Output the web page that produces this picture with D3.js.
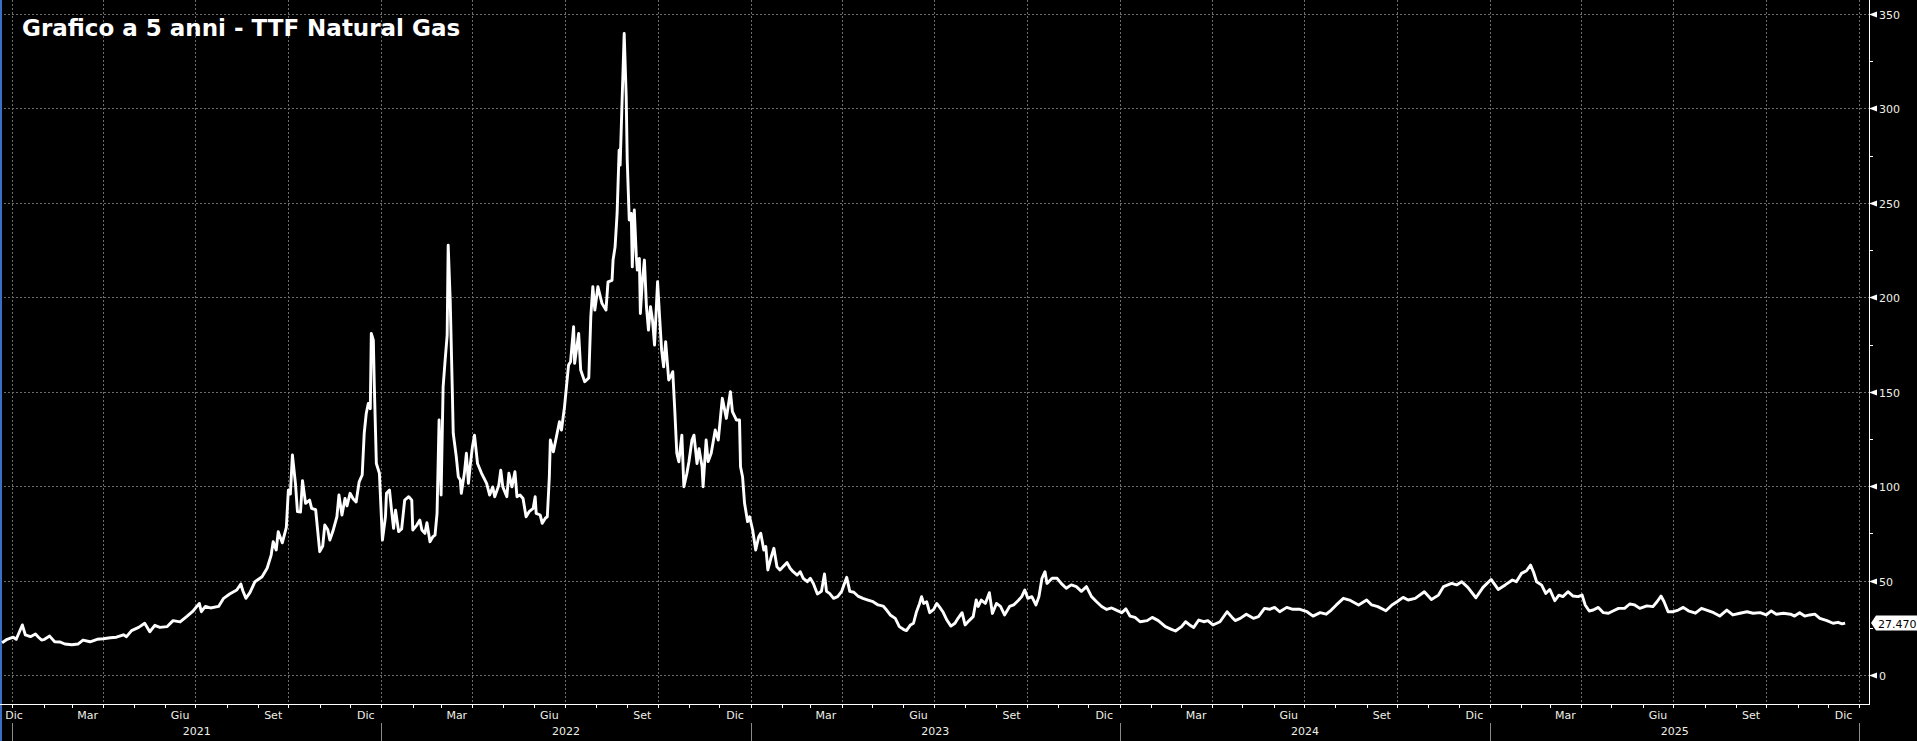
<!DOCTYPE html>
<html>
<head>
<meta charset="utf-8">
<script src="https://cdn.jsdelivr.net/npm/d3@7"></script>
<style>
  html, body { margin: 0; padding: 0; background: #000; }
  svg { display: block; }
</style>
</head>
<body>
<svg id="chart"></svg>
<script>
// TTF front-month, EUR/MWh: [month-day, price] per year
var prices2020 = [["12-22",17.1],["12-27",18.9]];
var prices2021 = [["01-02",20],["01-05",18.9],["01-11",26.5],["01-14",21.2],["01-19",20.3],["01-24",21.7],["01-27",20],["01-30",18.5],["02-02",18.9],["02-07",20.6],["02-12",17.6],["02-17",17.5],["02-22",16.4],["03-01",16],["03-07",16.4],["03-12",18.5],["03-19",17.6],["03-26",18.9],["04-01",19.2],["04-08",19.7],["04-14",20],["04-21",21.3],["04-24",20.3],["04-29",23.5],["05-06",25.2],["05-12",27.4],["05-17",22.9],["05-22",26.3],["05-27",25.2],["06-03",25.6],["06-09",28.8],["06-16",28.1],["06-23",31.2],["06-29",34],["07-05",37.9],["07-07",33.5],["07-11",36.3],["07-16",35.5],["07-24",36.3],["07-29",40.6],["08-04",42.9],["08-11",45],["08-15",48.2],["08-17",44.6],["08-20",40.6],["08-24",43.6],["08-29",49.4],["09-05",52],["09-10",56.5],["09-14",63.5],["09-16",70.6],["09-19",66.2],["09-21",75.9],["09-25",70],["09-29",78.2],["10-01",97.9],["10-03",95.8],["10-05",116.5],["10-08",101.5],["10-10",86.5],["10-13",86.3],["10-15",102.9],["10-18",90.9],["10-22",92.6],["10-24",88.2],["10-28",87.5],["11-01",65.3],["11-04",68.3],["11-06",79.4],["11-09",76.9],["11-11",71.5],["11-14",76.1],["11-18",83.8],["11-20",95.3],["11-23",84.7],["11-26",93.5],["11-28",89.5],["12-01",96.2],["12-04",93.3],["12-07",91.6],["12-10",102.3],["12-13",105.9],["12-15",128],["12-17",138.5],["12-19",143.8],["12-21",141],["12-22",180.9],["12-24",177.3],["12-25",152.6],["12-27",112],["12-30",106.8]];
var prices2022 = [["01-02",71.5],["01-05",83.8],["01-06",96.2],["01-09",97.9],["01-11",87.3],["01-13",77.7],["01-15",87.3],["01-18",75.9],["01-21",77.3],["01-24",92.6],["01-28",94.4],["01-31",92.6],["02-01",76.8],["02-05",79.4],["02-08",82],["02-10",76.8],["02-13",75],["02-15",80.6],["02-18",70.6],["02-21",73.3],["02-23",74.1],["02-25",85.6],["02-27",135],["03-01",95.3],["03-03",152.6],["03-05",166.8],["03-07",180],["03-08",227.6],["03-10",198.5],["03-12",152.6],["03-13",128],["03-16",115.6],["03-18",105],["03-20",103.2],["03-21",96.2],["03-24",106.8],["03-26",117.4],["03-28",101.5],["03-30",112],["04-01",120.9],["04-03",127],["04-06",112],["04-10",106.8],["04-15",101.5],["04-18",95.3],["04-21",99.6],["04-23",94.4],["04-27",100.4],["04-29",108.5],["05-01",99.6],["05-05",94.4],["05-07",106.8],["05-10",99.6],["05-13",107.6],["05-15",94.4],["05-18",95.3],["05-21",93.5],["05-24",83.8],["05-27",86.5],["05-31",88.2],["06-02",94.4],["06-03",85.6],["06-07",84.7],["06-09",80.3],["06-12",83],["06-14",83.8],["06-16",105],["06-17",124.4],["06-20",118.2],["06-23",126.2],["06-26",134.1],["06-28",129.7],["07-01",142],["07-05",164.1],["07-07",165.9],["07-10",184.4],["07-11",165],["07-15",180.9],["07-17",161.5],["07-21",155.3],["07-25",157.3],["07-27",189.7],["07-29",205.6],["07-31",193.2],["08-03",205.6],["08-07",196.8],["08-11",193.2],["08-13",208.2],["08-17",209],["08-18",219.7],["08-20",226.7],["08-22",244.4],["08-24",277.9],["08-25",270],["08-27",305.3],["08-29",339.7],["08-31",306.1],["09-01",272.6],["09-03",240.9],["09-05",244.4],["09-06",216.1],["09-08",246.2],["09-10",221.5],["09-11",214.4],["09-13",220.6],["09-14",191.4],["09-16",209.1],["09-18",219.7],["09-20",195],["09-22",182.6],["09-24",195],["09-26",187.9],["09-28",174.7],["10-01",208.2],["10-03",189.7],["10-05",172],["10-07",163.2],["10-09",176.5],["10-12",156.2],["10-14",158],["10-16",160.6],["10-18",140.3],["10-20",117.4],["10-22",112.9],["10-25",127],["10-27",99.7],["10-30",106.8],["11-01",112.9],["11-04",124.4],["11-06",127],["11-09",112],["11-11",119.8],["11-14",110.3],["11-15",99.7],["11-18",124.4],["11-20",113],["11-23",117.4],["11-27",129.7],["11-30",124.4],["12-04",146.5],["12-08",135.9],["12-12",150],["12-14",139.4],["12-18",135],["12-21",135],["12-22",110.3],["12-24",105],["12-26",90.9],["12-29",81.2],["12-31",83.8]];
var prices2023 = [["01-03",76.8],["01-06",66.2],["01-09",73.2],["01-11",75],["01-14",66.2],["01-16",68],["01-18",55.6],["01-21",61.8],["01-24",67.1],["01-27",57.3],["01-30",55.6],["02-02",57.3],["02-06",59.5],["02-09",56.5],["02-12",54.7],["02-16",52.9],["02-19",54.7],["02-22",51.2],["02-26",49.4],["03-01",51.2],["03-04",48.5],["03-08",42.9],["03-12",44.3],["03-15",53.5],["03-17",44.3],["03-20",43.2],["03-24",40.6],["03-28",41.5],["04-01",44.3],["04-06",51.7],["04-09",44.3],["04-13",43.8],["04-17",41.8],["04-22",40.6],["04-27",39.7],["05-02",38.8],["05-07",37.1],["05-12",36.5],["05-16",34],["05-19",31.8],["05-24",30],["05-28",25.6],["06-01",24.2],["06-04",23.5],["06-08",26.5],["06-11",27.4],["06-14",33.5],["06-17",37.9],["06-19",41.5],["06-21",37.9],["06-24",38.8],["06-27",33],["07-01",34.7],["07-04",37.9],["07-07",35.8],["07-10",33.5],["07-14",29.1],["07-18",25.9],["07-22",27.4],["07-25",30],["07-29",33],["08-01",26.5],["08-05",28.8],["08-09",30.9],["08-12",39.7],["08-14",36.3],["08-17",39.7],["08-21",37.9],["08-25",43.6],["08-28",32.6],["09-01",37.9],["09-05",36.3],["09-09",31.8],["09-14",36.3],["09-18",37.1],["09-23",39.7],["09-26",41.5],["09-29",45],["10-02",40.6],["10-06",41.5],["10-10",37.1],["10-13",41.5],["10-16",51.2],["10-19",54.7],["10-21",48.5],["10-26",51.2],["10-31",51.2],["11-04",48.5],["11-09",45.9],["11-14",47.7],["11-19",46.8],["11-24",44.3],["11-29",46.8],["12-04",41.5],["12-09",38.8],["12-14",36.3],["12-19",34.7],["12-24",35.5],["12-29",34.2]];
var prices2024 = [["01-03",33],["01-07",35],["01-11",31.2],["01-16",30.5],["01-21",28.2],["01-28",28.8],["02-02",30.5],["02-08",28.8],["02-15",25.6],["02-21",24.2],["02-25",23.3],["03-02",25.6],["03-06",28.2],["03-10",26.5],["03-14",25.2],["03-19",29.1],["03-24",28.2],["03-28",28.8],["04-02",26.5],["04-09",28.2],["04-16",33.5],["04-21",30.5],["04-24",28.8],["04-29",30],["05-05",32.2],["05-12",30],["05-17",30.9],["05-23",35.3],["05-28",34.8],["06-02",35.8],["06-07",33.5],["06-14",35.8],["06-20",34.8],["06-27",34.8],["07-04",33.5],["07-10",31.2],["07-17",33],["07-23",32.2],["07-28",34.4],["08-02",37.1],["08-09",40.6],["08-15",39.7],["08-24",37.1],["09-01",39.7],["09-06",37.1],["09-12",36.2],["09-20",34],["09-26",37.1],["10-01",38.8],["10-07",41.1],["10-12",39.7],["10-19",40.6],["10-28",44.1],["11-04",40],["11-11",42.3],["11-16",46.8],["11-24",48.5],["11-29",47.7],["12-04",49.4],["12-10",46.4],["12-18",40.9],["12-25",46.4]];
var prices2025 = [["01-02",50.6],["01-09",45.3],["01-16",47.7],["01-23",50.3],["01-27",49.4],["02-01",53.8],["02-06",55.2],["02-10",58.2],["02-13",54.4],["02-16",49.4],["02-21",47.6],["02-25",43.2],["03-01",45.3],["03-06",39.3],["03-10",42.3],["03-14",41.5],["03-19",44.1],["03-24",41.8],["03-29",41.5],["04-02",42.3],["04-05",37.1],["04-09",33.9],["04-13",34.4],["04-18",35.8],["04-23",33],["04-28",32.7],["05-03",34],["05-08",35.3],["05-14",35.3],["05-19",37.6],["05-24",37.1],["05-29",35.3],["06-05",36.6],["06-11",36.2],["06-15",38.8],["06-19",41.8],["06-22",38.8],["06-26",33.5],["07-01",33.5],["07-06",34.4],["07-11",35.8],["07-16",34],["07-23",32.7],["07-29",35.3],["08-03",34.4],["08-10",33],["08-16",31.2],["08-23",34.4],["08-29",31.8],["09-05",32.7],["09-12",33.5],["09-18",32.7],["09-25",33],["10-01",31.8],["10-06",33.9],["10-11",32.2],["10-18",32.7],["10-25",32.2],["10-29",31.2],["11-03",33],["11-08",31.2],["11-13",31.8],["11-18",32.2],["11-23",30],["11-30",28.8],["12-06",27.4],["12-11",27.9],["12-15",27.1],["12-18",27.47]];

var yTicks = [0, 50, 100, 150, 200, 250, 300, 350];
var monthNames = ["Gen","Feb","Mar","Apr","Mag","Giu","Lug","Ago","Set","Ott","Nov","Dic"];
var labelledMonths = [2, 5, 8, 11]; // Mar, Giu, Set, Dic
var years = [2021, 2022, 2023, 2024, 2025];
var lastValue = 27.470;
var title = "Grafico a 5 anni - TTF Natural Gas";

var width = 1917, height = 741;
var plotRight = 1869, plotBottom = 704;
var font = "'DejaVu Sans', sans-serif";

var parse = d3.utcParse("%Y-%m-%d");
function toRows(year, arr) {
  return arr.map(function (d) { return { date: parse(year + "-" + d[0]), value: d[1] }; });
}
var data = [].concat(
  toRows(2020, prices2020), toRows(2021, prices2021), toRows(2022, prices2022),
  toRows(2023, prices2023), toRows(2024, prices2024), toRows(2025, prices2025)
);

var x = d3.scaleUtc()
  .domain([new Date(Date.UTC(2021, 0, 1)), new Date(Date.UTC(2026, 0, 1))])
  .range([12.2, 1859.3]);
var y = d3.scaleLinear().domain([0, 350]).range([675, 14]);

var svg = d3.select("#chart").attr("width", width).attr("height", height)
  .style("background", "#000");

// grid
var quarters = d3.utcMonth.every(3).range(new Date(Date.UTC(2021, 0, 1)), new Date(Date.UTC(2026, 0, 2)));
svg.append("g").selectAll("line").data(quarters).enter().append("line")
  .attr("x1", function (d) { return Math.round(x(d)) + 0.5; })
  .attr("x2", function (d) { return Math.round(x(d)) + 0.5; })
  .attr("y1", 0).attr("y2", plotBottom)
  .attr("stroke", "#6c6c6c").attr("stroke-dasharray", "2,2");
svg.append("g").selectAll("line").data(yTicks).enter().append("line")
  .attr("x1", 0).attr("x2", plotRight)
  .attr("y1", function (d) { return Math.round(y(d)) + 0.5; })
  .attr("y2", function (d) { return Math.round(y(d)) + 0.5; })
  .attr("stroke", "#6c6c6c").attr("stroke-dasharray", "2,2");

// left edge marker
svg.append("line").attr("x1", 1).attr("x2", 1).attr("y1", 0).attr("y2", height)
  .attr("stroke", "#3a6fc4").attr("stroke-width", 2);

// price line
svg.append("clipPath").attr("id", "plotclip").append("rect")
  .attr("x", 0).attr("y", 0).attr("width", plotRight).attr("height", plotBottom);
var line = d3.line()
  .x(function (d) { return x(d.date); })
  .y(function (d) { return y(d.value); });
svg.append("path").datum(data)
  .attr("clip-path", "url(#plotclip)")
  .attr("d", line)
  .attr("fill", "none").attr("stroke", "#fff")
  .attr("stroke-width", 2.9).attr("stroke-linejoin", "round");

// right axis
var yAxis = svg.append("g");
yAxis.append("line").attr("x1", plotRight + 0.5).attr("x2", plotRight + 0.5)
  .attr("y1", 0).attr("y2", plotBottom).attr("stroke", "#fff");
var minor = d3.range(25, 350, 50);
yAxis.selectAll(".minor").data(minor).enter().append("line")
  .attr("x1", plotRight).attr("x2", plotRight + 4)
  .attr("y1", function (d) { return Math.round(y(d)) + 0.5; })
  .attr("y2", function (d) { return Math.round(y(d)) + 0.5; })
  .attr("stroke", "#fff");
var major = yAxis.selectAll(".major").data(yTicks).enter().append("g")
  .attr("transform", function (d) { return "translate(" + plotRight + "," + Math.round(y(d)) + ")"; });
major.append("path").attr("d", "M0,0.5L8,-2.5L8,3.5Z").attr("fill", "#fff");
major.append("text").attr("x", 10).attr("y", 4.5)
  .attr("fill", "#efefe6").attr("font-family", font).attr("font-size", 11)
  .text(function (d) { return d; });

// last value tag
var ly = Math.round(y(lastValue));
svg.append("path")
  .attr("d", "M" + (plotRight + 2) + "," + ly + "L" + (plotRight + 7) + "," + (ly - 7.5) +
    "L" + width + "," + (ly - 7.5) + "L" + width + "," + (ly + 7.5) + "L" + (plotRight + 7) + "," + (ly + 7.5) + "Z")
  .attr("fill", "#fff");
svg.append("text").attr("x", plotRight + 9).attr("y", ly + 4.5)
  .attr("fill", "#000").attr("font-family", font).attr("font-size", 11)
  .text(d3.format(".3f")(lastValue));

// bottom axis
var xAxis = svg.append("g");
xAxis.append("line").attr("x1", 0).attr("x2", plotRight + 1)
  .attr("y1", plotBottom + 0.5).attr("y2", plotBottom + 0.5).attr("stroke", "#fff");
var months = d3.utcMonth.range(new Date(Date.UTC(2020, 11, 1)), new Date(Date.UTC(2026, 0, 2)));
xAxis.selectAll(".mt").data(months).enter().append("line")
  .attr("x1", function (d) { return Math.round(x(d)) + 0.5; })
  .attr("x2", function (d) { return Math.round(x(d)) + 0.5; })
  .attr("y1", plotBottom).attr("y2", plotBottom + 4)
  .attr("stroke", "#fff");
var labelled = months.filter(function (d) {
  return labelledMonths.indexOf(d.getUTCMonth()) >= 0 && d < new Date(Date.UTC(2026, 0, 1));
});
xAxis.selectAll(".ml").data(labelled).enter().append("text")
  .attr("x", function (d) {
    var c = (x(d) + x(d3.utcMonth.offset(d, 1))) / 2;
    return Math.max(c, 14);
  })
  .attr("y", 719)
  .attr("text-anchor", "middle")
  .attr("fill", "#efefe6").attr("font-family", font).attr("font-size", 11)
  .text(function (d) { return monthNames[d.getUTCMonth()]; });
var yearStarts = years.concat([2026]).map(function (yr) { return new Date(Date.UTC(yr, 0, 1)); });
xAxis.selectAll(".ys").data(yearStarts).enter().append("line")
  .attr("x1", function (d) { return Math.round(x(d)) + 0.5; })
  .attr("x2", function (d) { return Math.round(x(d)) + 0.5; })
  .attr("y1", 723).attr("y2", 741)
  .attr("stroke", "#8a8a8a");
xAxis.selectAll(".yl").data(years).enter().append("text")
  .attr("x", function (yr) { return (x(new Date(Date.UTC(yr, 0, 1))) + x(new Date(Date.UTC(yr + 1, 0, 1)))) / 2; })
  .attr("y", 735)
  .attr("text-anchor", "middle")
  .attr("fill", "#efefe6").attr("font-family", font).attr("font-size", 11)
  .text(function (d) { return d; });

// title
svg.append("text").attr("x", 22).attr("y", 36)
  .attr("fill", "#fff").attr("font-family", font).attr("font-weight", "bold")
  .attr("font-size", 23)
  .text(title);
</script>
</body>
</html>
